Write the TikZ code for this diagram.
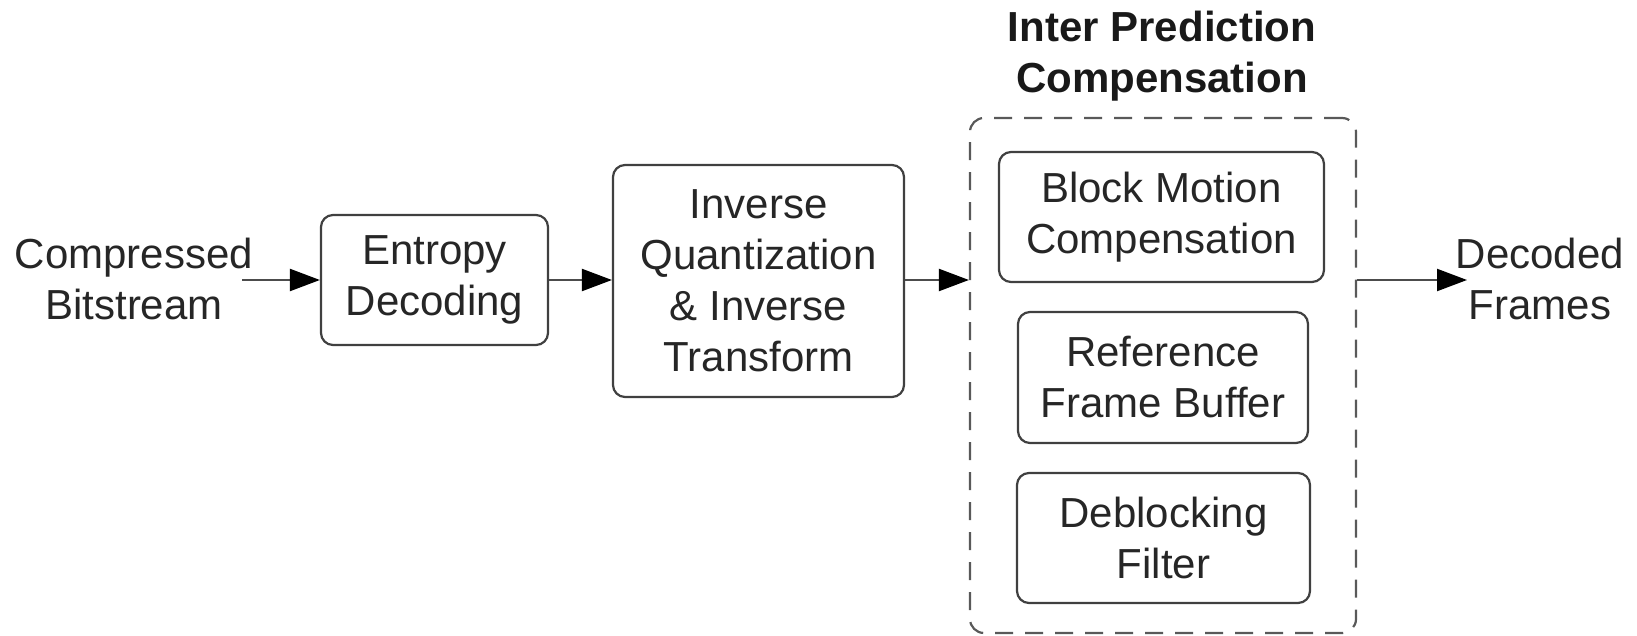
\documentclass[tikz,border=0pt]{standalone}
\usepackage{fontspec}
\setmainfont{Liberation Sans}
\usetikzlibrary{positioning, arrows.meta}
\tikzset{
  blk/.style = {draw=black!75, rectangle, rounded corners=6pt, line width=1.1pt,
                align=center, inner sep=0pt, text=black!85,
                font=\fontsize{21}{25.5}\selectfont},
  grp/.style = {draw=black!65, rectangle, rounded corners=7pt, line width=1.1pt,
                dash pattern=on 9pt off 6pt, inner sep=0pt},
  lbl/.style = {align=center, inner sep=0pt, text=black!85,
                font=\fontsize{21}{25.5}\selectfont},
  ttl/.style = {align=center, inner sep=0pt, text=black!90,
                font=\fontsize{21}{25.5}\selectfont\bfseries},
  ar/.style  = {-{Triangle[length=15pt, width=11pt, color=black]},
                line width=1.1pt, draw=black!70},
}
\begin{document}
\begin{tikzpicture}[x=0.5pt, y=-0.5pt]
    \useasboundingbox (0,0) rectangle (1637,636);
    % decoder chain
    \node[lbl] (src) at (134,279) {Compressed\\Bitstream};
    \node[blk, minimum width=113.5pt, minimum height=65pt] (ent) at (434.5,280) {Entropy\\Decoding};
    \node[blk, minimum width=145.5pt, minimum height=116pt] (inv) at (758.5,281) {Inverse\\Quantization\\\& Inverse\\Transform};
    % inter prediction group
    \node[grp, minimum width=193pt, minimum height=257.5pt] (grp) at (1163,375.5) {};
    \node[ttl] (ttl) at (1162,56) {Inter Prediction\\Compensation};
    \node[blk, minimum width=162.5pt, minimum height=65pt] (bmc) at (1161.5,217) {Block Motion\\Compensation};
    \node[blk, minimum width=145pt, minimum height=65.5pt] (rfb) at (1163,377.5) {Reference\\Frame Buffer};
    \node[blk, minimum width=146.5pt, minimum height=65pt] (dbf) at (1163.5,538) {Deblocking\\Filter};
    \node[lbl] (dst) at (1540,279) {Decoded\\Frames};
    % connectors
    \coordinate (in) at (242,280);
    \coordinate (out) at (1467,280);
    \draw[ar] (in) -- (ent.west);
    \draw[ar] (ent.east) -- (inv.west |- ent.east);
    \draw[ar] (inv.east |- ent.east) -- (grp.west |- ent.east);
    \draw[ar] (grp.east |- ent.east) -- (out);
\end{tikzpicture}
\end{document}
